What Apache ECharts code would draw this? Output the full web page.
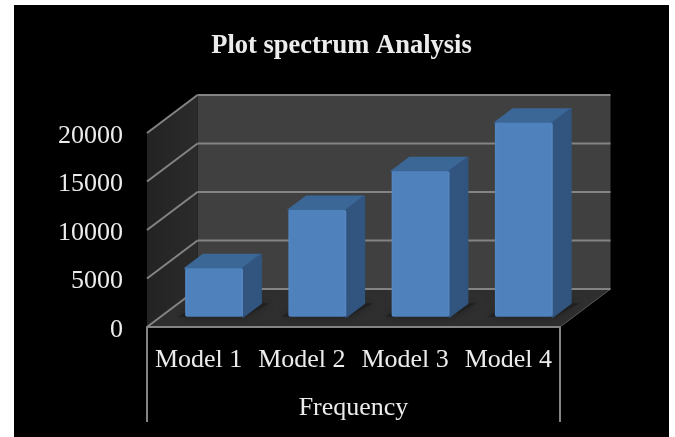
<!DOCTYPE html>
<html>
<head>
<meta charset="utf-8">
<style>
html,body{margin:0;padding:0;background:#fff;width:675px;height:437px;overflow:hidden}
#chart{position:absolute;left:14px;top:5px;width:655px;height:432px}
</style>
<script src="https://cdn.jsdelivr.net/npm/echarts@6/dist/echarts.min.js"></script>
</head>
<body>
<div id="chart"></div>
<script>
var title = 'Plot spectrum Analysis';
var axisName = 'Frequency';
var categories = ['Model 1', 'Model 2', 'Model 3', 'Model 4'];
var values = [5000, 11000, 15000, 20000];
var yTicks = [0, 5000, 10000, 15000, 20000];

var FONT = '"Liberation Serif","Times New Roman",serif';
var TEXT = '#ececec';
var GRID = '#848484';
var DEPTH = [50.5, -38];
var FRONT = 0.29, BACK = 0.645, WIDTH = 0.56, DROP = 95, NUDGE = 0.8;

function off(p, k) { return [p[0] + DEPTH[0] * k, p[1] + DEPTH[1] * k]; }
function poly(points, fill, extra) {
  var o = { type: 'polygon', shape: { points: points }, style: { fill: fill } };
  if (extra) { for (var k in extra) o.style[k] = extra[k]; }
  return o;
}
function line(a, b, color, width) {
  return { type: 'line', shape: { x1: a[0], y1: a[1], x2: b[0], y2: b[1] },
           style: { stroke: color, lineWidth: width, fill: null } };
}

function renderRoom(params, api) {
  var b = api.size([1, 0])[0];
  var n = categories.length;
  var c0 = api.coord([0, 0]);
  var x0 = c0[0] - b / 2, x1 = x0 + b * n, y0 = c0[1];
  var yTop = api.coord([0, yTicks[yTicks.length - 1]])[1];
  var fl = [x0, y0], fr = [x1, y0], tl = [x0, yTop], tr = [x1, yTop];
  return { type: 'group', children: [
    poly([off(fl,1), off(fr,1), off(tr,1), off(tl,1)], '#404040'),
    poly([fl, off(fl,1), off(tl,1), tl], new echarts.graphic.LinearGradient(0,0,1,0,[
      {offset:0,color:'#232323'},{offset:1,color:'#2b2b2b'}])),
    poly([fl, fr, off(fr,1), off(fl,1)], '#2e2e2e'),
    line(fr, off(fr,1), '#5a5a5a', 1),
    line(fl, [x0, y0 + DROP], GRID, 2),
    line(fr, [x1, y0 + DROP], GRID, 2)
  ]};
}
function renderGrid(params, api) {
  var b = api.size([1, 0])[0];
  var n = categories.length;
  var p = api.coord([0, api.value(0)]);
  var x0 = p[0] - b / 2, x1 = x0 + b * n, y = p[1];
  var kids = [line([x0, y], off([x0, y], 1), GRID, 2),
              line(off([x0, y], 1), off([x1, y], 1), GRID, 2)];
  return { type: 'group', children: kids };
}
function renderBar(params, api) {
  var i = api.value(0), v = api.value(1);
  var base = api.coord([i, 0]), top = api.coord([i, v]);
  var w = api.size([1, 0])[0] * WIDTH;
  var l = base[0] - w / 2 + NUDGE, r = base[0] + w / 2 + NUDGE;
  var by = base[1] + NUDGE, ty = top[1] + NUDGE;
  var bl = off([l, by], FRONT), br = off([r, by], FRONT);
  var tl = off([l, ty], FRONT), tr = off([r, ty], FRONT);
  var k = BACK - FRONT;
  var bk = function (p) { return off(p, k); };
  return { type: 'group', children: [
    poly([[bl[0]-7, bl[1]], [br[0]+1, br[1]], [bk(br)[0]+9, bk(br)[1]], [bk(bl)[0]-2, bk(br)[1]]],
         'rgba(30,30,30,0.8)', { shadowBlur: 8, shadowColor: 'rgba(24,24,24,0.9)' }),
    poly([tl, tr, bk(tr), bk(tl)], '#3b6797', { stroke: '#3b6797', lineWidth: 2, lineJoin: 'round' }),
    poly([tr, br, bk(br), bk(tr)], '#31557f', { stroke: '#31557f', lineWidth: 2, lineJoin: 'round' }),
    { type: 'rect', shape: { x: tl[0], y: tl[1], width: w, height: bl[1] - tl[1], r: 2 },
      style: { fill: new echarts.graphic.LinearGradient(0,0,1,0,[
        {offset:0,color:'#5487c4'},{offset:0.04,color:'#4f81bd'},{offset:0.96,color:'#4f81bd'},{offset:1,color:'#5788c2'}]) } }
  ]};
}

var chart = echarts.init(document.getElementById('chart'), null, { renderer: 'canvas' });
chart.setOption({
  backgroundColor: '#000',
  animation: false,
  title: {
    text: title, left: 'center', top: 23,
    textStyle: { color: TEXT, fontFamily: FONT, fontSize: 26.5, fontWeight: 'bold' }
  },
  grid: { left: 133, right: 109, top: 128, bottom: 110 },
  xAxis: {
    type: 'category', data: categories,
    name: axisName, nameLocation: 'middle', nameGap: 68,
    nameTextStyle: { color: TEXT, fontFamily: FONT, fontSize: 26 },
    axisLine: { show: true, lineStyle: { color: GRID, width: 2 } },
    axisTick: { show: false },
    axisLabel: { color: TEXT, fontFamily: FONT, fontSize: 26, margin: 20, interval: 0 },
    z: 5
  },
  yAxis: {
    type: 'value', min: 0, max: 20000, interval: 5000,
    axisLine: { show: false }, axisTick: { show: false }, splitLine: { show: false },
    axisLabel: { color: TEXT, fontFamily: FONT, fontSize: 26, margin: 24,
      verticalAlign: 'top', lineHeight: 6,
      formatter: function (v) { return String(v); } }
  },
  series: [
    { type: 'custom', data: [[0]], renderItem: renderRoom, silent: true, z: 1, clip: false },
    { type: 'custom', data: yTicks.map(function (t) { return [t]; }), renderItem: renderGrid, silent: true, z: 2, clip: false },
    { type: 'custom', data: values.map(function (v, i) { return [i, v]; }), renderItem: renderBar, encode: { x: 0, y: 1 }, z: 3, clip: false }
  ]
});
</script>
</body>
</html>
